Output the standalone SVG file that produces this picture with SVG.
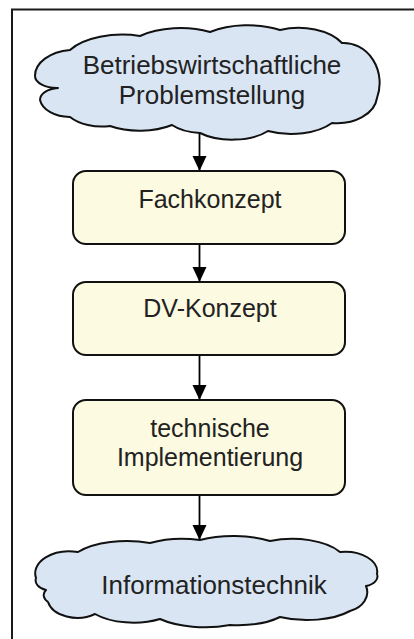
<svg xmlns="http://www.w3.org/2000/svg" width="414" height="639" viewBox="0 0 414 639">
  <style>
    .frame { fill: none; stroke: #1a1a1a; stroke-width: 2; }
    .cloud { fill: #d9e5f3; stroke: #111; stroke-width: 2; stroke-linejoin: round; }
    .box { fill: #fcfae0; stroke: #111; stroke-width: 2; }
    .label { font-family: "Liberation Sans", Arial, sans-serif; font-size: 25px; fill: #222; text-anchor: middle; }
    .cloud-label { font-size: 26px; }
    .edge { fill: none; stroke: #000; stroke-width: 1.8; }
  </style>
  <defs>
    <marker id="arrow" markerUnits="userSpaceOnUse" markerWidth="16" markerHeight="16" viewBox="0 0 16 16" refX="15" refY="8" orient="auto">
      <path d="M0,1 L15,8 L0,15 Z" fill="#000"/>
    </marker>
  </defs>

  <!-- page frame -->
  <path class="frame" d="M12,640 L12,9.5 L415,9.5"/>

  <!-- connectors -->
  <g id="connectors">
    <line class="edge" x1="199.5" y1="133" x2="199.5" y2="171" marker-end="url(#arrow)"/>
    <line class="edge" x1="199.5" y1="244" x2="199.5" y2="282" marker-end="url(#arrow)"/>
    <line class="edge" x1="199.5" y1="355" x2="199.5" y2="400" marker-end="url(#arrow)"/>
    <line class="edge" x1="199.5" y1="495" x2="199.5" y2="540" marker-end="url(#arrow)"/>
  </g>

  <!-- start: business problem -->
  <g id="problem">
    <path class="cloud" d="M35,76 A40,26 0 0 1 70,50 A60,30 0 0 1 140,36 A60,30 0 0 1 210,32 A60,30 0 0 1 280,30 A50,30 0 0 1 342,43 A36,40 0 0 1 377,98 A40,28 0 0 1 332,123 A50,26 0 0 1 268,131 A45,22 0 0 1 200,133 A40,20 0 0 1 172,125 A50,24 0 0 1 110,126 A40,24 0 0 1 70,117 A30,20 0 0 1 40,100 A20,12 0 0 1 58,88 A22,12 0 0 1 35,76 Z"/>
    <text class="label cloud-label" x="212" y="74">Betriebswirtschaftliche</text>
    <text class="label cloud-label" x="212" y="104">Problemstellung</text>
  </g>

  <g id="fachkonzept">
    <rect class="box" x="73" y="171" width="272" height="73" rx="13"/>
    <text class="label" x="210" y="208">Fachkonzept</text>
  </g>

  <g id="dv-konzept">
    <rect class="box" x="73" y="282" width="272" height="73" rx="13"/>
    <text class="label" x="210" y="317">DV-Konzept</text>
  </g>

  <g id="implementierung">
    <rect class="box" x="73" y="400" width="272" height="95" rx="13"/>
    <text class="label" x="210" y="437">technische</text>
    <text class="label" x="210" y="466">Implementierung</text>
  </g>

  <!-- end: information technology -->
  <g id="informationstechnik">
    <path class="cloud" d="M36,578 A34,22 0 0 1 78,552 A60,26 0 0 1 150,543 A55,22 0 0 1 200,540 A60,24 0 0 1 270,541 A55,26 0 0 1 340,552 A32,20 0 0 1 377,574 A16,10 0 0 1 366,586 A26,20 0 0 1 350,611 A55,24 0 0 1 280,617 A55,22 0 0 1 230,625 A60,24 0 0 1 160,619 A50,24 0 0 1 95,614 A30,20 0 0 1 48,602 A16,10 0 0 1 46,590 A14,10 0 0 1 36,578 Z"/>
    <text class="label cloud-label" x="214" y="594">Informationstechnik</text>
  </g>
</svg>
